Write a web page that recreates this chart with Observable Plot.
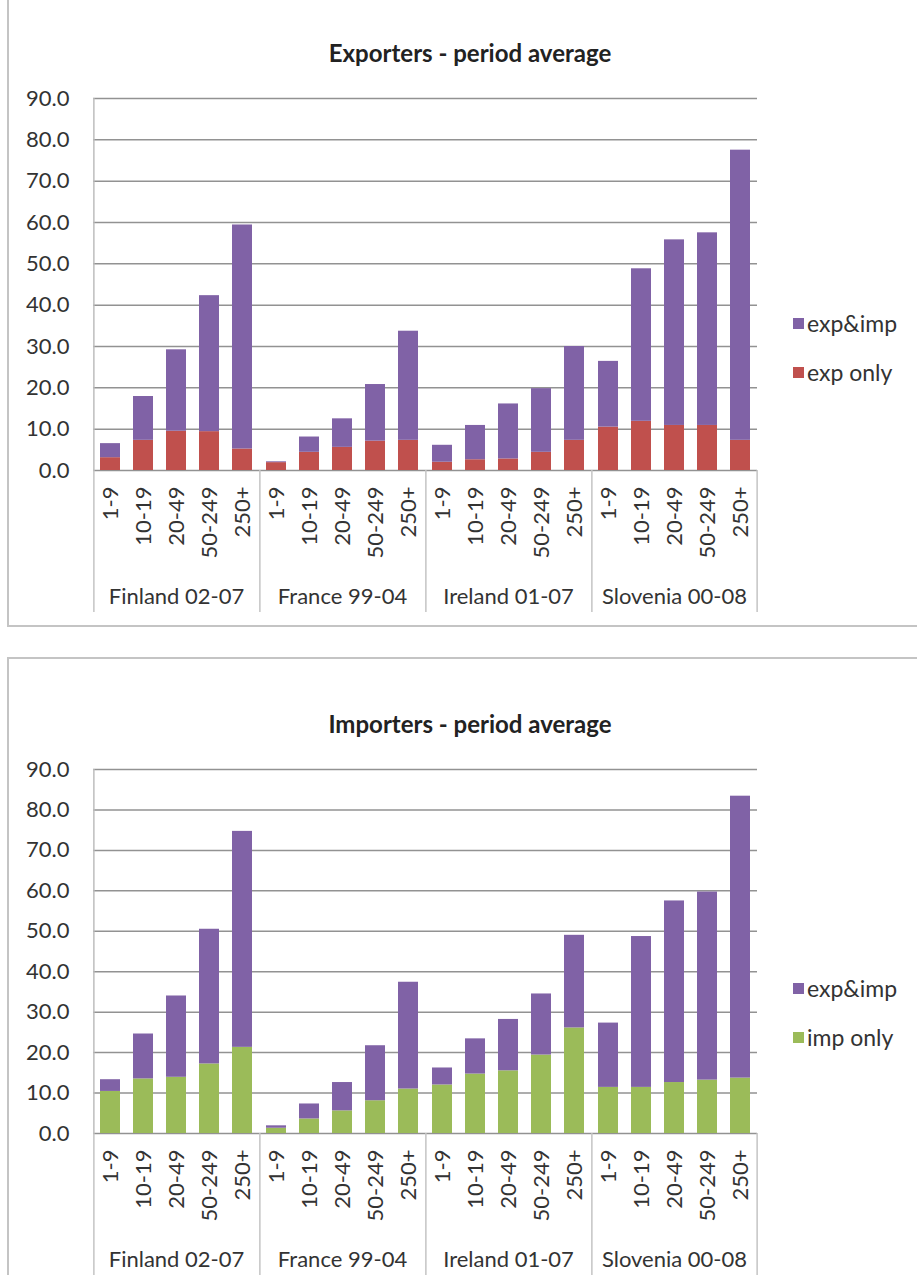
<!DOCTYPE html>
<html>
<head>
<meta charset="utf-8">
<script src="https://cdn.jsdelivr.net/npm/d3@7"></script>
<script src="https://cdn.jsdelivr.net/npm/@observablehq/plot@0.6"></script>
<style>
  html, body { margin: 0; padding: 0; background: #fff; overflow: hidden; }
  body { width: 917px; height: 1275px; position: relative; font-family: Lato, "Open Sans", sans-serif; color: #333; }
  .box { position: absolute; border: 2px solid #c4c4c4; box-sizing: border-box; }
  .title { position: absolute; transform: translateX(-50%); font-weight: bold; font-size: 24px; line-height: 24px; white-space: nowrap; color: #222; }
  .chart { position: absolute; left: 0; }
  .legend { position: absolute; left: 793px; font-size: 23px; line-height: 22px; }
  .legend .item { display: flex; align-items: center; height: 22px; margin-bottom: 27px; white-space: nowrap; }
  .legend .sw { width: 11px; height: 11px; margin-right: 3px; display: inline-block; }
</style>
</head>
<body>
<div class="box" style="left:7px; top:-20px; width:930px; height:647px;"></div>
<div class="box" style="left:7px; top:657px; width:930px; height:660px;"></div>
<div class="title" style="left:470px; top:41px;">Exporters - period average</div>
<div class="title" style="left:470px; top:712px;">Importers - period average</div>
<div id="c1" class="chart" style="top:80px;"></div>
<div id="c2" class="chart" style="top:751px;"></div>
<div id="l1" class="legend" style="top:312px;"></div>
<div id="l2" class="legend" style="top:977px;"></div>
<script>
// ---- data ----
const countries = ["Finland 02-07", "France 99-04", "Ireland 01-07", "Slovenia 00-08"];
const sizes = ["1-9", "10-19", "20-49", "50-249", "250+"];
const yTicks = [0, 10, 20, 30, 40, 50, 60, 70, 80, 90];

// Exporters chart (order: countries x sizes)
const exportersSeries = ["exp only", "exp&imp"];
const expOnly = [
  3.1, 7.3, 9.5, 9.4, 5.2,
  1.9, 4.4, 5.6, 7.1, 7.3,
  2.0, 2.6, 2.8, 4.4, 7.3,
  10.5, 11.9, 10.9, 10.9, 7.3
];
const expImpExporters = [
  3.4, 10.6, 19.7, 32.9, 54.2,
  0.2, 3.7, 6.9, 13.7, 26.4,
  4.1, 8.3, 13.3, 15.4, 22.7,
  15.9, 36.9, 44.9, 46.6, 70.2
];

// Importers chart
const importersSeries = ["imp only", "exp&imp"];
const impOnly = [
  10.4, 13.5, 13.9, 17.2, 21.3,
  1.3, 3.6, 5.6, 8.1, 11.0,
  12.0, 14.7, 15.5, 19.4, 26.1,
  11.4, 11.4, 12.6, 13.2, 13.7
];
const expImpImporters = [
  2.9, 11.1, 20.1, 33.3, 53.4,
  0.6, 3.7, 7.0, 13.6, 26.4,
  4.2, 8.7, 12.7, 15.1, 22.9,
  15.9, 37.3, 44.9, 46.5, 69.7
];

const purple = "#8062a6", red = "#c0504d", green = "#9bbb59";

function buildRows(seriesNames, bottom, top) {
  const rows = [];
  countries.forEach((c, ci) => sizes.forEach((s, si) => {
    const i = ci * sizes.length + si;
    rows.push({country: c, size: s, series: seriesNames[0], value: bottom[i]});
    rows.push({country: c, size: s, series: seriesNames[1], value: top[i]});
  }));
  return rows;
}

function chart(rows, seriesNames, colors, marginTop, plotH) {
  const W = 780, ml = 92, mr = 23, mb = 150;
  const step = (W - ml - mr) / (countries.length * sizes.length);
  const firsts = countries.map(c => ({country: c, size: sizes[0]}));
  const last = [{country: countries[countries.length - 1], size: sizes[sizes.length - 1]}];
  return Plot.plot({
    width: W,
    height: marginTop + plotH + mb,
    marginLeft: ml, marginRight: mr, marginTop, marginBottom: mb,
    style: {fontFamily: "Lato, 'Open Sans', sans-serif", fontSize: "22px", color: "#333", background: "transparent", overflow: "visible"},
    fx: {domain: countries, padding: 0, label: null},
    x: {domain: sizes, paddingInner: 0.38, paddingOuter: 0.19, label: null},
    y: {domain: [0, 90], label: null},
    color: {domain: seriesNames, range: colors},
    marks: [
      Plot.gridY(yTicks, {stroke: "#929292", strokeOpacity: 1, strokeWidth: 1.5}),
      Plot.barY(rows, {fx: "country", x: "size", y: "value", fill: "series"}),
      Plot.ruleX(firsts.slice(0, 1), {fx: "country", x: "size", y1: 0, y2: 90, dx: -step / 2, stroke: "#bdbdbd", strokeWidth: 1.5}),
      Plot.ruleX(firsts, {fx: "country", x: "size", y1: 0, y2: 0, insetBottom: -142, dx: -step / 2, stroke: "#c4c4c4", strokeWidth: 1.5}),
      Plot.ruleX(last, {fx: "country", x: "size", y1: 0, y2: 0, insetBottom: -142, dx: step / 2, stroke: "#c4c4c4", strokeWidth: 1.5}),
      Plot.axisY({ticks: yTicks, tickFormat: d => d.toFixed(1), tickSize: 0, tickPadding: 24, label: null}),
      Plot.axisX({tickRotate: -90, tickSize: 0, tickPadding: 16, label: null}),
      Plot.axisFx({anchor: "bottom", tickSize: 0, tickPadding: 118, label: null})
    ]
  });
}

document.getElementById("c1").appendChild(
  chart(buildRows(exportersSeries, expOnly, expImpExporters), exportersSeries, [red, purple], 18, 372)
);
document.getElementById("c2").appendChild(
  chart(buildRows(importersSeries, impOnly, expImpImporters), importersSeries, [green, purple], 18, 364)
);

function legend(id, items) {
  const el = document.getElementById(id);
  items.forEach(([label, color]) => {
    const it = document.createElement("div");
    it.className = "item";
    const sw = document.createElement("span");
    sw.className = "sw";
    sw.style.background = color;
    it.appendChild(sw);
    it.appendChild(document.createTextNode(label));
    el.appendChild(it);
  });
}
legend("l1", [[exportersSeries[1], purple], [exportersSeries[0], red]]);
legend("l2", [[importersSeries[1], purple], [importersSeries[0], green]]);
</script>
</body>
</html>
